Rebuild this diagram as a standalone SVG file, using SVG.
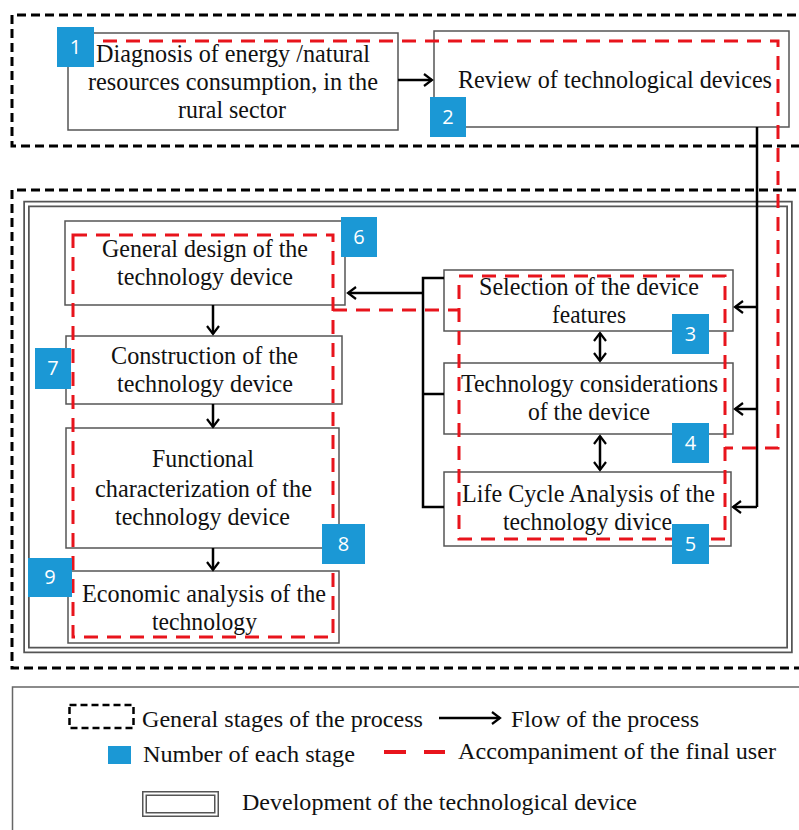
<svg xmlns="http://www.w3.org/2000/svg" width="799" height="830" viewBox="0 0 799 830">
<defs>
<marker id="arr" markerUnits="userSpaceOnUse" markerWidth="12" markerHeight="14" refX="9" refY="7" orient="auto-start-reverse" viewBox="0 0 12 14">
<path d="M1,1 L9,7 L1,13" fill="none" stroke="#000" stroke-width="2.2"/>
</marker>
</defs>
<style>
.stage{fill:none;stroke:#000;stroke-width:3;stroke-dasharray:9 5}
.box{fill:#fff;stroke:#555;stroke-width:1.5}
.red{fill:none;stroke:#e8141c;stroke-width:3;stroke-dasharray:14 9}
.flow{fill:none;stroke:#000;stroke-width:2.5}
.t{font-family:"Liberation Serif","Times New Roman",serif;font-size:25px;fill:#111;text-anchor:middle}
.tl{font-family:"Liberation Serif","Times New Roman",serif;font-size:23px;fill:#111}
.num{fill:#1b98d5}
.nt{font-family:"Open Sans","Liberation Sans",sans-serif;font-size:20px;fill:#fff;text-anchor:middle}
</style>
<rect width="799" height="830" fill="#fff"/>

<g id="stage-top"><path class="stage" d="M810 15 H12 V146 H810"/></g>
<g id="stage-bottom"><path class="stage" d="M810 190 H12 V668 H810"/></g>
<g id="development">
<rect x="26.5" y="204" width="763" height="446" fill="none" stroke="#555" stroke-width="6.5"/>
<rect x="26.5" y="204" width="763" height="446" fill="none" stroke="#fff" stroke-width="3"/>
</g>

<g id="n1">
<rect class="box" x="68" y="33" width="330" height="97"/>
<text class="t" x="233" y="62" textLength="274" lengthAdjust="spacingAndGlyphs">Diagnosis of energy /natural</text>
<text class="t" x="233" y="90" textLength="290" lengthAdjust="spacingAndGlyphs">resources consumption, in the</text>
<text class="t" x="232" y="118" textLength="108" lengthAdjust="spacingAndGlyphs">rural sector</text>
</g>
<g id="n2">
<rect class="box" x="434" y="31" width="355" height="96"/>
<text class="t" x="615" y="88" textLength="314" lengthAdjust="spacingAndGlyphs">Review of technological devices</text>
</g>
<g id="n3">
<rect class="box" x="444" y="270" width="289" height="61"/>
<text class="t" x="589" y="295" textLength="220" lengthAdjust="spacingAndGlyphs">Selection of the device</text>
<text class="t" x="589" y="323" textLength="74" lengthAdjust="spacingAndGlyphs">features</text>
</g>
<g id="n4">
<rect class="box" x="444" y="363" width="289" height="71"/>
<text class="t" x="589.5" y="392" textLength="257" lengthAdjust="spacingAndGlyphs">Technology considerations</text>
<text class="t" x="589" y="420" textLength="122" lengthAdjust="spacingAndGlyphs">of the device</text>
</g>
<g id="n5">
<rect class="box" x="444" y="472" width="287" height="74"/>
<text class="t" x="588.5" y="502" textLength="253" lengthAdjust="spacingAndGlyphs">Life Cycle Analysis of the</text>
<text class="t" x="587.5" y="530" textLength="169" lengthAdjust="spacingAndGlyphs">technology divice</text>
</g>
<g id="n6">
<rect class="box" x="65" y="221" width="280" height="84"/>
<text class="t" x="205" y="257" textLength="206" lengthAdjust="spacingAndGlyphs">General design of the</text>
<text class="t" x="205" y="285" textLength="176" lengthAdjust="spacingAndGlyphs">technology device</text>
</g>
<g id="n7">
<rect class="box" x="66" y="336" width="276" height="68"/>
<text class="t" x="204.5" y="364" textLength="187" lengthAdjust="spacingAndGlyphs">Construction of the</text>
<text class="t" x="205" y="392" textLength="176" lengthAdjust="spacingAndGlyphs">technology device</text>
</g>
<g id="n8">
<rect class="box" x="66" y="428" width="273" height="120"/>
<text class="t" x="203" y="467" textLength="102" lengthAdjust="spacingAndGlyphs">Functional</text>
<text class="t" x="203.5" y="497" textLength="217" lengthAdjust="spacingAndGlyphs">characterization of the</text>
<text class="t" x="202.5" y="525" textLength="175" lengthAdjust="spacingAndGlyphs">technology device</text>
</g>
<g id="n9">
<rect class="box" x="68" y="571" width="271" height="72"/>
<text class="t" x="204" y="602" textLength="244" lengthAdjust="spacingAndGlyphs">Economic analysis of the</text>
<text class="t" x="204.5" y="630" textLength="105" lengthAdjust="spacingAndGlyphs">technology</text>
</g>

<g id="connectors">
<line class="flow" x1="398" y1="80" x2="432" y2="80" marker-end="url(#arr)"/>
<path class="flow" d="M757 127 V507"/>
<line class="flow" x1="757" y1="307" x2="735" y2="307" marker-end="url(#arr)"/>
<line class="flow" x1="757" y1="409" x2="735" y2="409" marker-end="url(#arr)"/>
<path class="flow" d="M757 507 H733" marker-end="url(#arr)"/>
<path class="flow" d="M444 278 H423 V507 H444"/>
<line class="flow" x1="423" y1="394" x2="444" y2="394"/>
<line class="flow" x1="423" y1="293" x2="348" y2="293" marker-end="url(#arr)"/>
<line class="flow" x1="213" y1="305" x2="213" y2="334" marker-end="url(#arr)"/>
<line class="flow" x1="213" y1="404" x2="213" y2="427" marker-end="url(#arr)"/>
<line class="flow" x1="213" y1="548" x2="213" y2="570" marker-end="url(#arr)"/>
<line class="flow" x1="600" y1="333" x2="600" y2="361" marker-start="url(#arr)" marker-end="url(#arr)"/>
<line class="flow" x1="600" y1="436" x2="600" y2="470" marker-start="url(#arr)" marker-end="url(#arr)"/>
</g>

<g id="accompaniment">
<path class="red" d="M103 41 H778 V448 H725"/>
<rect class="red" x="459" y="276" width="266" height="263"/>
<rect class="red" x="73" y="235" width="260" height="402"/>
<path class="red" d="M333 310 H459"/>
</g>

<g id="numbers">
<g id="b1"><rect class="num" x="57" y="27" width="37" height="40"/><text class="nt" x="75.5" y="54">1</text></g>
<g id="b2"><rect class="num" x="430" y="97" width="36" height="40"/><text class="nt" x="448" y="124">2</text></g>
<g id="b3"><rect class="num" x="672" y="314" width="37" height="40"/><text class="nt" x="690.5" y="341">3</text></g>
<g id="b4"><rect class="num" x="672" y="423" width="37" height="40"/><text class="nt" x="690.5" y="450">4</text></g>
<g id="b5"><rect class="num" x="672" y="524" width="37" height="40"/><text class="nt" x="690.5" y="551">5</text></g>
<g id="b6"><rect class="num" x="341" y="217" width="36" height="40"/><text class="nt" x="359" y="244">6</text></g>
<g id="b7"><rect class="num" x="35" y="348" width="36" height="41"/><text class="nt" x="53" y="375">7</text></g>
<g id="b8"><rect class="num" x="322" y="524" width="43" height="40"/><text class="nt" x="343.5" y="551">8</text></g>
<g id="b9"><rect class="num" x="28" y="558" width="44" height="39"/><text class="nt" x="50" y="584">9</text></g>
</g>

<g id="legend">
<rect x="12.5" y="687" width="800" height="160" fill="none" stroke="#666" stroke-width="1.5"/>
<rect x="69.5" y="705" width="64" height="23" fill="none" stroke="#000" stroke-width="2.5" stroke-dasharray="7 4"/>
<text class="tl" x="142" y="727" textLength="281" lengthAdjust="spacingAndGlyphs">General stages of the process</text>
<line class="flow" x1="439" y1="718" x2="500" y2="718" marker-end="url(#arr)"/>
<text class="tl" x="511" y="727" textLength="188" lengthAdjust="spacingAndGlyphs">Flow of the process</text>
<rect class="num" x="108" y="746" width="23" height="18"/>
<text class="tl" x="143" y="762" textLength="212" lengthAdjust="spacingAndGlyphs">Number of each stage</text>
<path d="M384 752 H445" fill="none" stroke="#e8141c" stroke-width="4" stroke-dasharray="22 18"/>
<text class="tl" x="458" y="759" textLength="318" lengthAdjust="spacingAndGlyphs">Accompaniment of the final user</text>
<rect x="144.5" y="793.5" width="72" height="21" fill="none" stroke="#555" stroke-width="5"/>
<rect x="144.5" y="793.5" width="72" height="21" fill="none" stroke="#fff" stroke-width="2"/>
<text class="tl" x="242" y="810" textLength="395" lengthAdjust="spacingAndGlyphs">Development of the technological device</text>
</g>
</svg>
